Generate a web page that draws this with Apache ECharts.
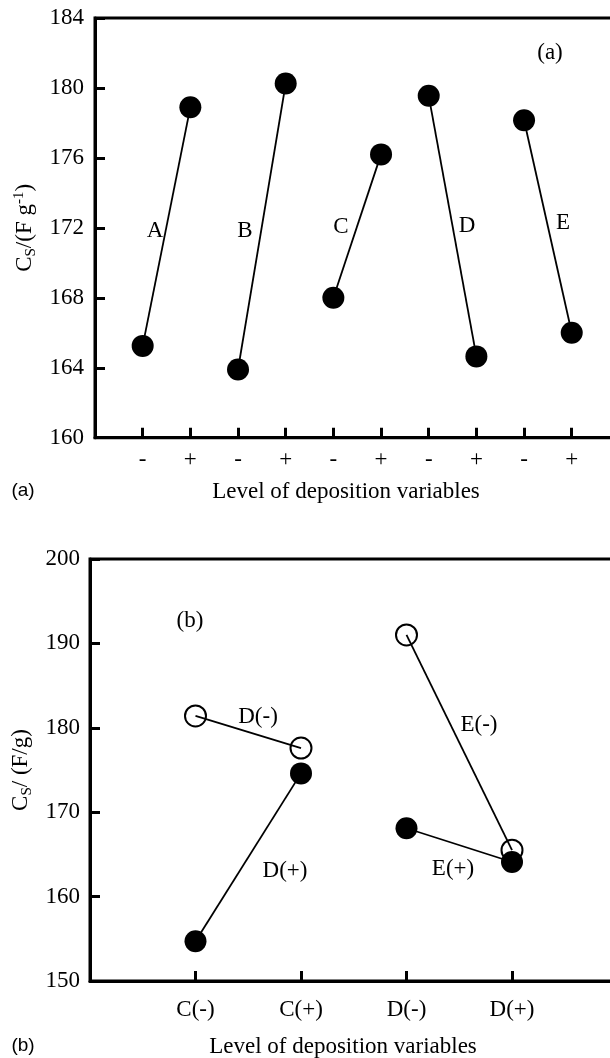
<!DOCTYPE html>
<html><head><meta charset="utf-8">
<script src="https://cdn.jsdelivr.net/npm/echarts@6/dist/echarts.min.js"></script>
<style>html,body{margin:0;padding:0;background:#fff}#c{width:610px;height:1058px}</style>
</head><body><div id="c"></div>
<script>
// ---- Panel (a) data ----
const levelsA = ['-', '+', '-', '+', '-', '+', '-', '+', '-', '+'];
const factorsA = ['A', 'B', 'C', 'D', 'E'];
const csMinusA = [165.25, 163.9, 168.0, 179.55, 178.15];
const csPlusA  = [178.9, 180.25, 176.2, 164.65, 166.0];
// ---- Panel (b) data ----
const levelsB = ['C(-)', 'C(+)', 'D(-)', 'D(+)'];
const dMinusB = [181.4, 177.6];   // open, at C(-), C(+)
const dPlusB  = [154.7, 174.6];   // filled, at C(-), C(+)
const eMinusB = [191.0, 165.5];   // open, at D(-), D(+)
const ePlusB  = [168.1, 164.1];   // filled, at D(-), D(+)

const SERIF = 'Liberation Serif';
const SANS = 'Liberation Sans';
const FS = 23;

const chart = echarts.init(document.getElementById('c'), null, {renderer: 'canvas'});

function xAx(gridIndex, max, labels, margin) {
  return {
    type: 'value', gridIndex, min: 0, max, interval: 1,
    axisLine: {show: true, onZero: false, lineStyle: {color: '#000', width: 3}},
    axisTick: {show: true, inside: true, length: 10, lineStyle: {color: '#000', width: 3}},
    splitLine: {show: false},
    axisLabel: {
      color: '#000', fontFamily: SERIF, fontSize: FS, margin, hideOverlap: false,
      formatter: v => labels[v - 1] !== undefined ? labels[v - 1] : ''
    }
  };
}
const richY = {
  n: {fontFamily: SERIF, fontSize: FS, color: '#000'},
  s: {fontFamily: SERIF, fontSize: 15, color: '#000', padding: [12, 0, 0, 0]},
  p: {fontFamily: SERIF, fontSize: 15, color: '#000', padding: [0, 0, 12, 0]}
};
function yAx(gridIndex, min, max, interval, name, gap, margin) {
  return {
    type: 'value', gridIndex, min, max, interval,
    name, nameLocation: 'middle', nameRotate: 90, nameGap: gap,
    nameTextStyle: {rich: richY},
    axisLine: {show: true, lineStyle: {color: '#000', width: 3}},
    axisTick: {show: true, inside: true, length: 10, lineStyle: {color: '#000', width: 3}},
    splitLine: {show: false},
    axisLabel: {color: '#000', fontFamily: SERIF, fontSize: FS, margin}
  };
}

const series = [];
factorsA.forEach((f, i) => {
  series.push({
    type: 'line', xAxisIndex: 0, yAxisIndex: 0, name: f,
    data: [[2 * i + 1, csMinusA[i]], [2 * i + 2, csPlusA[i]]],
    symbol: 'circle', symbolSize: 22,
    itemStyle: {color: '#000'},
    lineStyle: {color: '#000', width: 1.8},
    animation: false
  });
});
function seriesB(name, xs, vals, open) {
  return {
    type: 'line', xAxisIndex: 1, yAxisIndex: 1, name,
    data: xs.map((x, k) => [x, vals[k]]),
    symbol: 'circle', symbolSize: open ? 21 : 22,
    itemStyle: open ? {color: 'rgba(0,0,0,0)', borderColor: '#000', borderWidth: 2}
                    : {color: '#000'},
    lineStyle: {color: '#000', width: 1.8},
    animation: false
  };
}
series.push(seriesB('D(+)', [1, 2], dPlusB, false));
series.push(seriesB('D(-)', [1, 2], dMinusB, true));
series.push(seriesB('E(+)', [3, 4], ePlusB, false));
series.push(seriesB('E(-)', [3, 4], eMinusB, true));

function txt(text, x, y, fam, size) {
  return {
    type: 'text', x, y, silent: true,
    style: {text, fontFamily: fam || SERIF, fontSize: size || FS, fill: '#000',
            textAlign: 'center', textVerticalAlign: 'middle', align: 'center', verticalAlign: 'middle'}
  };
}

chart.setOption({
  animation: false,
  backgroundColor: '#fff',
  grid: [
    {left: 95, top: 18, width: 524.4, height: 419.7, outerBoundsMode: 'none', containLabel: false,
     show: true, borderColor: '#000', borderWidth: 3, backgroundColor: 'transparent'},
    {left: 90, top: 559, width: 527.5, height: 422, outerBoundsMode: 'none', containLabel: false,
     show: true, borderColor: '#000', borderWidth: 3, backgroundColor: 'transparent'}
  ],
  xAxis: [xAx(0, 11, levelsA, 11), xAx(1, 5, levelsB, 17)],
  yAxis: [
    yAx(0, 160, 184, 4, '{n|C}{s|S}{n|/(F g}{p|-1}{n|)}', 56, 11),
    yAx(1, 150, 200, 10, '{n|C}{s|S}{n|/ (F/g)}', 51, 10)
  ],
  series,
  graphic: [
    txt('A', 155, 231), txt('B', 245, 231), txt('C', 341, 227), txt('D', 467, 226), txt('E', 563, 223),
    txt('(a)', 550, 53),
    txt('Level of deposition variables', 346, 492),
    txt('(a)', 23, 491, SANS, 19),
    txt('(b)', 190, 621),
    txt('D(-)', 258, 717), txt('D(+)', 285, 871), txt('E(-)', 479, 725), txt('E(+)', 453, 869),
    txt('Level of deposition variables', 343, 1047),
    txt('(b)', 23, 1046, SANS, 19)
  ]
});
</script>
</body></html>
